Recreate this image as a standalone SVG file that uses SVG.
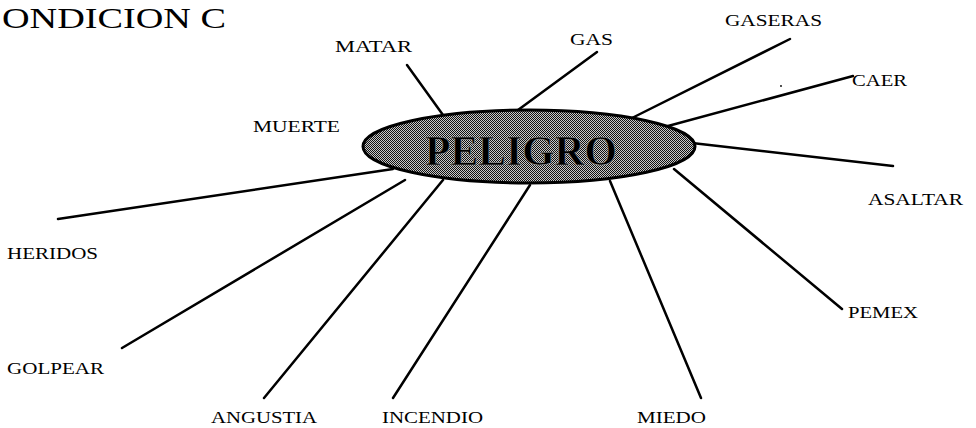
<svg xmlns="http://www.w3.org/2000/svg" width="976" height="428" viewBox="0 0 976 428">
<defs>
<pattern id="dither" width="2" height="2" patternUnits="userSpaceOnUse">
<rect width="2" height="2" fill="#c8c8c8"/>
<rect x="0" y="0" width="1" height="1" fill="#111"/>
<rect x="1" y="1" width="1" height="1" fill="#111"/>
</pattern>
</defs>
<style>
.lbl{font-family:"Liberation Serif","Times New Roman",serif;font-size:17px;fill:#000}
.title{font-family:"Liberation Serif","Times New Roman",serif;font-size:30px;fill:#000}
.big{font-family:"Liberation Serif","Times New Roman",serif;font-size:42px;font-weight:bold;fill:#000;stroke:#999;stroke-width:0.6}
.ln{stroke:#000;stroke-width:2.5;stroke-linecap:round;fill:none}
</style>
<rect width="976" height="428" fill="#fff"/>
<text class="title" font-family="Liberation Serif, serif" x="2" y="28" textLength="224" lengthAdjust="spacingAndGlyphs">ONDICION C</text>
<g id="connectors">
<line class="ln" x1="443" y1="115" x2="407" y2="65"/>
<line class="ln" x1="518" y1="110" x2="597" y2="52"/>
<line class="ln" x1="632" y1="118" x2="790" y2="39"/>
<line class="ln" x1="668" y1="126" x2="853" y2="76"/>
<line class="ln" x1="692" y1="143" x2="893" y2="166"/>
<line class="ln" x1="674" y1="169" x2="842" y2="309"/>
<line class="ln" x1="610" y1="181" x2="701" y2="398"/>
<line class="ln" x1="530" y1="185" x2="393" y2="398"/>
<line class="ln" x1="443" y1="180" x2="264" y2="398"/>
<line class="ln" x1="405" y1="180" x2="122" y2="348"/>
<line class="ln" x1="393" y1="169" x2="58" y2="219"/>
</g>
<circle cx="781" cy="86" r="0.9" fill="#000"/>
<g id="peligro">
<ellipse cx="529" cy="146.5" rx="166" ry="36.5" fill="url(#dither)" stroke="#000" stroke-width="3"/>
<text class="big" x="521" y="165" text-anchor="middle" textLength="192" lengthAdjust="spacingAndGlyphs">PELIGRO</text>
</g>
<g id="matar"><text class="lbl" x="335" y="52" textLength="77" lengthAdjust="spacingAndGlyphs">MATAR</text></g>
<g id="gas"><text class="lbl" x="570" y="45" textLength="43" lengthAdjust="spacingAndGlyphs">GAS</text></g>
<g id="gaseras"><text class="lbl" x="725" y="26" textLength="97" lengthAdjust="spacingAndGlyphs">GASERAS</text></g>
<g id="caer"><text class="lbl" x="852" y="86" textLength="55" lengthAdjust="spacingAndGlyphs">CAER</text></g>
<g id="muerte"><text class="lbl" x="253" y="132" textLength="87" lengthAdjust="spacingAndGlyphs">MUERTE</text></g>
<g id="asaltar"><text class="lbl" x="868" y="205" textLength="95" lengthAdjust="spacingAndGlyphs">ASALTAR</text></g>
<g id="heridos"><text class="lbl" x="7" y="259" textLength="91" lengthAdjust="spacingAndGlyphs">HERIDOS</text></g>
<g id="pemex"><text class="lbl" x="848" y="318" textLength="70" lengthAdjust="spacingAndGlyphs">PEMEX</text></g>
<g id="golpear"><text class="lbl" x="7" y="374" textLength="97" lengthAdjust="spacingAndGlyphs">GOLPEAR</text></g>
<g id="angustia"><text class="lbl" x="211" y="423" textLength="106" lengthAdjust="spacingAndGlyphs">ANGUSTIA</text></g>
<g id="incendio"><text class="lbl" x="382" y="423" textLength="101" lengthAdjust="spacingAndGlyphs">INCENDIO</text></g>
<g id="miedo"><text class="lbl" x="637" y="423" textLength="69" lengthAdjust="spacingAndGlyphs">MIEDO</text></g>
</svg>
